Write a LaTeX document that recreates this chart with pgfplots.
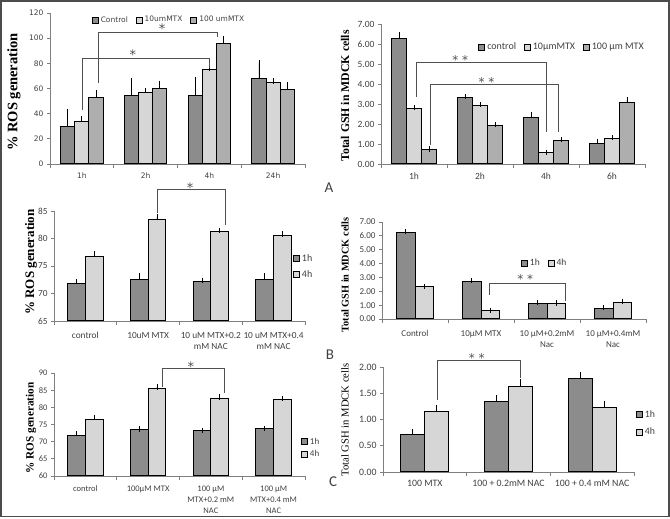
\documentclass[border=0pt]{standalone}
\usepackage{fontspec}
\setmainfont{Carlito}
\newfontfamily\dvs{DejaVu Sans}
\newfontfamily\tnr{Liberation Serif}
\usepackage{pgfplots}
\pgfplotsset{compat=1.18}
\definecolor{cA}{HTML}{8C8C8C}
\definecolor{cB}{HTML}{D6D6D6}
\definecolor{cC}{HTML}{AEAEAE}
\definecolor{axc}{HTML}{7F7F7F}
\definecolor{txt}{HTML}{404040}
\definecolor{brk}{HTML}{505050}
\pgfplotsset{
 exc/.style={
  scale only axis, anchor=south west, ybar, clip=false,
  axis x line*=bottom, axis y line*=left,
  axis line style={draw=axc, line width=0.8pt, -},
  tick align=outside, major tick length=3pt, minor tick length=4pt,
  major x tick style={draw=none},
  minor x tick style={draw=axc, line width=0.8pt},
  major y tick style={draw=axc, line width=0.8pt},
  enlarge x limits=false, xmin=0.5,
  tick label style={text=txt},
  /pgf/number format/assume math mode=true,
  legend style={draw=none, fill=none, text=txt},
 },
 bs/.style={draw=black, line width=1pt, fill=#1,
  legend image code/.code={\draw[##1, line width=0.8pt] (0pt,-3pt) rectangle (6pt,3pt);},
  error bars/y dir=plus, error bars/y explicit,
  error bars/error bar style={line width=0.9pt, black},
  error bars/error mark options={line width=0.9pt, black, mark size=2.6pt}},
 brk/.style={draw=brk, line width=0.8pt},
 gsh/.style={yticklabel={\pgfmathprintnumber[fixed,fixed zerofill,precision=2]{\tick}}},
}
\begin{document}
\begin{tikzpicture}[x=1pt,y=1pt]
\path[use as bounding box] (0,0) rectangle (670,519);
\draw[black!70, line width=1.5pt] (1,2.5) rectangle (669,518);
% ---------- Panel 1 ----------
\begin{axis}[exc, at={(50pt,355pt)}, width=255pt, height=151pt,
  xmax=4.5, ymin=0, ymax=120, ytick={0,20,...,120},
  xtick={1,2,3,4}, xticklabels={1h,2h,4h,24h}, minor xtick={0.5,1.5,2.5,3.5,4.5},
  xticklabel style={yshift=-2pt},
  bar width=0.222,
  tick label style={font=\dvs\fontsize{7.5}{9}\selectfont},
  legend columns=3,
  legend style={at={(0.467,0.954)}, anchor=center, font=\dvs\fontsize{7.5}{9}\selectfont,
    /tikz/every even column/.append style={column sep=6pt}},
]
\addplot[bs=cA, bar shift=-0.222] table[y error=e] {
x y e
1 29.8 11.9
2 54.1 12.1
3 54.4 12.4
4 68.3 12.4
};
\addplot[bs=cB, bar shift=0] table[y error=e] {
x y e
1 33.8 2.1
2 56.7 1.6
3 74.7 1.3
4 64.6 1.4
};
\addplot[bs=cC, bar shift=0.222] table[y error=e] {
x y e
1 52.8 4.2
2 59.9 4.2
3 95.8 3.9
4 59.1 4.2
};
\legend{Control,10umMTX,100 umMTX}
\draw[brk] (axis cs:1.0,42.9) -- (axis cs:1.0,84.3) -- (axis cs:3.0,84.3) -- (axis cs:3.0,76.3);
\draw[brk] (axis cs:1.25,64.4) -- (axis cs:1.25,104.9) -- (axis cs:3.13,104.9) -- (axis cs:3.13,101);
\node[font=\dvs\fontsize{13}{13}\selectfont, text=brk] at (axis cs:1.8,87) {*};
\node[font=\dvs\fontsize{13}{13}\selectfont, text=brk] at (axis cs:2.26,107.5) {*};
\end{axis}
% ---------- Panel 2 ----------
\begin{axis}[exc, gsh, at={(381pt,355pt)}, width=264pt, height=140pt,
  xmax=4.5, ymin=0, ymax=7, ytick={0,1,...,7},
  xtick={1,2,3,4}, xticklabels={1h,2h,4h,6h}, minor xtick={0.5,1.5,2.5,3.5,4.5},
  xticklabel style={yshift=-2pt},
  bar width=0.227,
  tick label style={font=\fontsize{9.5}{11}\selectfont},
  legend columns=3,
  legend style={at={(0.686,0.836)}, anchor=center, font=\fontsize{10}{12}\selectfont,
    /tikz/every even column/.append style={column sep=6pt}},
]
\addplot[bs=cA, bar shift=-0.227] table[y error=e] {
x y e
1 6.28 0.18
2 3.33 0.05
3 2.33 0.13
4 1.03 0.09
};
\addplot[bs=cB, bar shift=0] table[y error=e] {
x y e
1 2.75 0.07
2 2.91 0.07
3 0.55 0.04
4 1.25 0.06
};
\addplot[bs=cC, bar shift=0.227] table[y error=e] {
x y e
1 0.72 0.03
2 1.92 0.05
3 1.17 0.05
4 3.09 0.11
};
\legend{control,10μmMTX,100 μm MTX}
\draw[brk] (axis cs:1.03,3.35) -- (axis cs:1.03,5.1) -- (axis cs:3.0,5.1) -- (axis cs:3.0,1.6);
\draw[brk] (axis cs:1.24,0.95) -- (axis cs:1.24,4.0) -- (axis cs:3.18,4.0) -- (axis cs:3.18,1.6);
\node[font=\dvs\fontsize{12}{12}\selectfont, text=brk] at (axis cs:1.70,5.2) {* *};
\node[font=\dvs\fontsize{12}{12}\selectfont, text=brk] at (axis cs:2.10,4.1) {* *};
\end{axis}
% ---------- Panel 3 ----------
\begin{axis}[exc, at={(54pt,198pt)}, width=251pt, height=110pt,
  xmax=4.5, ymin=65, ymax=85, ytick={65,70,...,85},
  xtick={1,2,3,4}, xticklabels={control,10uM MTX,{10 uM MTX+0.2\\mM NAC},{10 uM MTX+0.4\\mM NAC}},
  minor xtick={0.5,1.5,2.5,3.5,4.5},
  xticklabel style={align=center, yshift=-5pt},
  bar width=0.282,
  tick label style={font=\fontsize{9.3}{11}\selectfont},
  legend columns=1,
  legend style={at={(0.94,0.495)}, anchor=west, font=\fontsize{10}{12}\selectfont, row sep=4pt},
]
\addplot[bs=cA, bar shift=-0.141] table[y error=e] {
x y e
1 71.8 0.4
2 72.6 0.6
3 72.2 0.2
4 72.6 0.6
};
\addplot[bs=cB, bar shift=0.141] table[y error=e] {
x y e
1 76.7 0.6
2 83.5 0.4
3 81.3 0.1
4 80.6 0.2
};
\legend{1h,4h}
\draw[brk] (axis cs:2.14,84.6) -- (axis cs:2.14,88.9) -- (axis cs:3.23,88.9) -- (axis cs:3.23,82.4);
\node[font=\dvs\fontsize{13}{13}\selectfont, text=brk] at (axis cs:2.67,89.3) {*};
\end{axis}
% ---------- Panel 4 ----------
\begin{axis}[exc, gsh, at={(382pt,200pt)}, width=264pt, height=97pt,
  xmax=4.5, ymin=0, ymax=7, ytick={0,1,...,7},
  xtick={1,2,3,4}, xticklabels={Control,10μM MTX,{10 μM+0.2mM\\Nac},{10 μM+0.4mM\\Nac}},
  minor xtick={0.5,1.5,2.5,3.5,4.5},
  xticklabel style={align=center, yshift=-5pt},
  bar width=0.286,
  tick label style={font=\fontsize{9}{11}\selectfont},
  legend columns=2,
  legend style={at={(0.515,0.577)}, anchor=west, font=\fontsize{9.5}{11}\selectfont,
    /tikz/every even column/.append style={column sep=6pt}},
]
\addplot[bs=cA, bar shift=-0.143] table[y error=e] {
x y e
1 6.27 0.03
2 2.74 0.04
3 1.13 0.05
4 0.77 0.04
};
\addplot[bs=cB, bar shift=0.143] table[y error=e] {
x y e
1 2.33 0.03
2 0.58 0.03
3 1.11 0.05
4 1.20 0.05
};
\legend{1h,4h}
\draw[brk] (axis cs:2.12,1.73) -- (axis cs:2.12,2.58) -- (axis cs:3.27,2.58) -- (axis cs:3.27,1.30);
\node[font=\dvs\fontsize{12}{12}\selectfont, text=brk] at (axis cs:2.67,2.9) {* *};
\end{axis}
% ---------- Panel 5 ----------
\begin{axis}[exc, at={(54pt,43pt)}, width=251pt, height=103pt,
  xmax=4.5, ymin=60, ymax=90, ytick={60,65,...,90},
  xtick={1,2,3,4}, xticklabels={control,100μM MTX,{100 μM\\MTX+0.2 mM\\NAC},{100 μM\\MTX+0.4 mM\\NAC}},
  minor xtick={0.5,1.5,2.5,3.5,4.5},
  xticklabel style={align=center, yshift=-3pt},
  bar width=0.282,
  tick label style={font=\fontsize{8.5}{11}\selectfont},
  legend columns=1,
  legend style={at={(0.972,0.27)}, anchor=west, font=\fontsize{9}{11}\selectfont, row sep=1pt},
]
\addplot[bs=cA, bar shift=-0.141] table[y error=e] {
x y e
1 71.9 0.4
2 73.5 0.2
3 73.2 0.05
4 73.7 0.2
};
\addplot[bs=cB, bar shift=0.141] table[y error=e] {
x y e
1 76.5 0.6
2 85.6 0.3
3 82.7 0.3
4 82.3 0.2
};
\legend{1h,4h}
\draw[brk] (axis cs:2.23,86.0) -- (axis cs:2.23,91.5) -- (axis cs:3.22,91.5) -- (axis cs:3.22,84.3);
\node[font=\dvs\fontsize{13}{13}\selectfont, text=brk] at (axis cs:2.68,91.8) {*};
\end{axis}
% ---------- Panel 6 ----------
\begin{axis}[exc, gsh, at={(383pt,47pt)}, width=251pt, height=105pt,
  xmax=3.5, ymin=0, ymax=2, ytick={0,0.5,1,1.5,2},
  xtick={1,2,3}, xticklabels={100 MTX,100 + 0.2mM NAC,100 + 0.4 mM NAC},
  minor xtick={0.5,1.5,2.5,3.5},
  xticklabel style={yshift=-2pt},
  bar width=0.286,
  tick label style={font=\fontsize{9.8}{11}\selectfont},
  legend columns=1,
  legend style={at={(0.996,0.462)}, anchor=west, font=\fontsize{9.8}{11}\selectfont, row sep=5pt},
]
\addplot[bs=cA, bar shift=-0.143] table[y error=e] {
x y e
1 0.71 0.05
2 1.35 0.07
3 1.78 0.08
};
\addplot[bs=cB, bar shift=0.143] table[y error=e] {
x y e
1 1.15 0.08
2 1.63 0.09
3 1.23 0.08
};
\legend{1h,4h}
\draw[brk] (axis cs:1.143,1.37) -- (axis cs:1.143,2.12) -- (axis cs:2.143,2.12) -- (axis cs:2.143,1.79);
\node[font=\dvs\fontsize{12}{12}\selectfont, text=brk] at (axis cs:1.62,2.17) {* *};
\end{axis}
% ---------- y labels ----------
\node[rotate=90, font=\tnr\bfseries\fontsize{14.5}{14.5}\selectfont] at (14,427) {\% ROS generation};
\node[rotate=90, font=\tnr\bfseries\fontsize{11.8}{11.8}\selectfont] at (345,423) {Total GSH in MDCK cells};
\node[rotate=90, font=\tnr\bfseries\fontsize{13}{13}\selectfont] at (31,257) {\% ROS generation};
\node[rotate=90, font=\tnr\bfseries\fontsize{10.3}{10.3}\selectfont] at (345,244) {Total GSH in MDCK cells};
\node[rotate=90, font=\tnr\bfseries\fontsize{11.2}{11.2}\selectfont] at (31,91) {\% ROS generation};
\node[rotate=90, font=\tnr\fontsize{10.6}{10.6}\selectfont] at (345,99) {Total GSH in MDCK cells};
% ---------- panel letters ----------
\node[font=\fontsize{15}{15}\selectfont, text=txt] at (329,331) {A};
\node[font=\fontsize{15}{15}\selectfont, text=txt] at (330,164) {B};
\node[font=\fontsize{15}{15}\selectfont, text=txt] at (333,37) {C};
\end{tikzpicture}
\end{document}
